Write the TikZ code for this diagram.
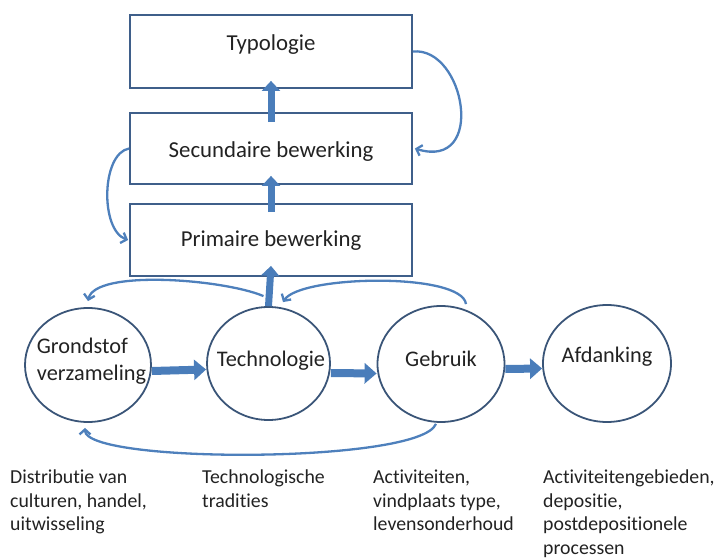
\documentclass[tikz,border=0pt]{standalone}
\usepackage{fontspec}
\setmainfont{Carlito}[Ligatures=NoCommon]
\usetikzlibrary{shapes.geometric,arrows.meta}
\definecolor{boxline}{HTML}{3F5F8A}
\definecolor{circline}{HTML}{3A5578}
\definecolor{arrowfill}{HTML}{4A7DBA}
\definecolor{curvecol}{HTML}{4E80BC}
\definecolor{txt}{HTML}{222222}
\begin{document}
\begin{tikzpicture}[x=1pt,y=1pt,
  box/.style={draw=boxline, line width=1.8pt, minimum width=282pt, inner sep=0pt, font=\fontsize{22.8}{27}\selectfont, text=txt},
  circ/.style={ellipse, draw=circline, line width=1.8pt, inner sep=0pt},
  clab/.style={font=\fontsize{22.3}{27}\selectfont, text=txt, align=left, inner sep=0pt},
  blkv/.style={arrowfill, line width=7pt, -{Triangle[width=18pt,length=10pt]}},
  blkh/.style={arrowfill, line width=8pt, -{Triangle[width=20pt,length=12pt]}},
  curve/.style={curvecol, line width=2.3pt, -{Straight Barb[length=5pt,width=11pt]}},
  note/.style={anchor=north west, align=left, inner sep=0pt, font=\fontsize{19.8}{23.5}\selectfont, text=txt}]
\useasboundingbox (0,0) rectangle (718,558);

% boxes
\node[box, minimum height=73pt, text height=14pt, text depth=15pt] (typ) at (271,506.5) {Typologie};
\node[box, minimum height=71pt, text height=19pt, text depth=0pt] (sec) at (271,409.5) {Secundaire bewerking};
\node[box, minimum height=72pt, text height=16pt, text depth=2pt] (prim) at (271,318) {Primaire bewerking};

% circles
\node[circ, minimum width=126pt, minimum height=114pt,
  label={[clab, xshift=3.5pt, yshift=3.5pt]center:Grondstof\\verzameling}] (gr) at (88,193) {};
\node[circ, minimum width=123pt, minimum height=113pt,
  label={[clab, xshift=2.5pt, yshift=3pt]center:Technologie}] (tech) at (268.5,194.5) {};
\node[circ, minimum width=127pt, minimum height=116pt,
  label={[clab, yshift=5.5pt]center:Gebruik}] (geb) at (441,194) {};
\node[circ, minimum width=128pt, minimum height=117pt,
  label={[clab, yshift=7pt]center:Afdanking}] (afd) at (607,194.5) {};

% block arrows
\draw[blkv] ([yshift=-10pt]sec.north) -- ([yshift=8pt]typ.south);
\draw[blkv] ([yshift=-9pt]prim.north) -- ([yshift=9pt]sec.south);
\draw[blkv] (tech.north) -- ([yshift=11pt]prim.south);
\draw[blkh] ([yshift=-6pt]gr.east) -- ([yshift=-6pt]tech.west);
\draw[blkh] ([yshift=-9.5pt]tech.east) -- ([yshift=-9.5pt]geb.west);
\draw[blkh] ([yshift=-5pt]geb.east) -- ([yshift=-5pt]afd.west);

% curved feedback arrows
\draw[curve] (typ.east) .. controls +(52,5) and +(72,-22) .. ([xshift=2pt]sec.east);
\draw[curve] (sec.west) .. controls +(-28,-5) and +(-28,10) .. ([xshift=-1pt]prim.west);
\draw[curve] ([xshift=-5pt,yshift=10pt]tech.north) .. controls +(-40,17) and +(7,32) .. ([yshift=6pt]gr.north);
\draw[curve] ([xshift=25pt,yshift=1pt]geb.north) .. controls +(-4,32) and +(17,27) .. ([xshift=14.5pt,yshift=4pt]tech.north);
\draw[curve] ([xshift=-5pt,yshift=-1pt]geb.south) .. controls +(-16,-40) and +(0,-36) .. ([xshift=-3pt,yshift=-5pt]gr.south);

% notes
\node[note] (n1) at (10,88) {Distributie van\\culturen, handel,\\uitwisseling};
\node[note] (n2) at (202,88) {Technologische\\tradities};
\node[note] (n3) at (373,88) {Activiteiten,\\vindplaats type,\\levensonderhoud};
\node[note] (n4) at (543,88) {Activiteitengebieden,\\depositie,\\postdepositionele\\processen};
\end{tikzpicture}
\end{document}
